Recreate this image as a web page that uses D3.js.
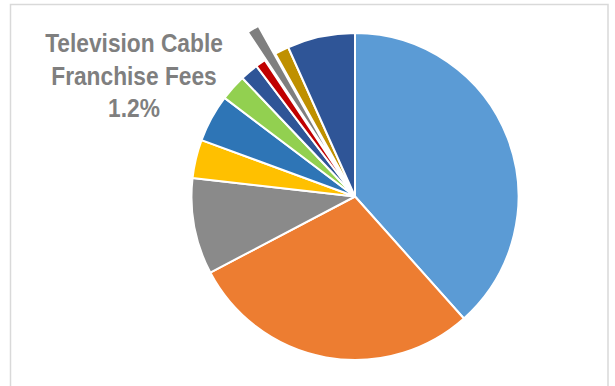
<!DOCTYPE html>
<html>
<head>
<meta charset="utf-8">
<script src="https://cdn.jsdelivr.net/npm/d3@7"></script>
<style>
  html, body { margin: 0; padding: 0; background: #ffffff; }
  svg { display: block; }
</style>
</head>
<body>
<svg id="chart" width="615" height="386"></svg>
<script>
// Revenue shares (percent), clockwise from 12 o'clock
const categories = [
  "Revenue A", "Revenue B", "Revenue C", "Revenue D", "Revenue E",
  "Revenue F", "Revenue G", "Revenue H",
  "Television Cable Franchise Fees",
  "Revenue J", "Revenue K"
];
const shares = [38.4, 28.9, 9.5, 3.8, 4.7, 2.6, 1.8, 1.0, 1.2, 1.4, 6.7];
const colors = [
  "#5B9BD5", "#ED7D31", "#8A8A8A", "#FFC000", "#2E75B6",
  "#92D050", "#2F5597", "#C00000", "#7F7F7F", "#BF9000", "#2F5597"
];
// the one slice that is pulled out and labelled
const highlighted = "Television Cable Franchise Fees";
const labelLines = ["Television Cable", "Franchise Fees"];

const svg = d3.select("#chart");
const W = 615, H = 386;

// chart area frame
svg.append("rect")
  .attr("x", 10.5).attr("y", 4.5)
  .attr("width", 597.5).attr("height", H + 10)
  .attr("fill", "#ffffff")
  .attr("stroke", "#D9D9D9")
  .attr("stroke-width", 1.5);

const cx = 355, cy = 196.5, radius = 163.5;
const explode = radius * 0.2;

const data = categories.map((c, i) => ({ name: c, value: shares[i], color: colors[i] }));

const pie = d3.pie().sort(null).value(d => d.value);
const arc = d3.arc().innerRadius(0).outerRadius(radius);

const g = svg.append("g").attr("transform", `translate(${cx},${cy})`);

g.selectAll("path.slice")
  .data(pie(data))
  .join("path")
  .attr("class", "slice")
  .attr("d", arc)
  .attr("fill", d => d.data.color)
  .attr("stroke", "#ffffff")
  .attr("stroke-width", 2)
  .attr("stroke-linejoin", "round")
  .attr("transform", d => {
    if (d.data.name !== highlighted) return null;
    const mid = (d.startAngle + d.endAngle) / 2;
    return `translate(${Math.sin(mid) * explode},${-Math.cos(mid) * explode})`;
  });

// data label for the highlighted slice
const hi = data.find(d => d.name === highlighted);
const lines = labelLines.concat([d3.format(".1f")(hi.value) + "%"]);

const label = svg.append("g")
  .attr("transform", "translate(134,0) scale(0.875,1)");

label.selectAll("text")
  .data(lines)
  .join("text")
  .attr("x", 0)
  .attr("y", (d, i) => 52.5 + i * 32.5)
  .attr("text-anchor", "middle")
  .attr("font-family", "'Liberation Sans', Arial, sans-serif")
  .attr("font-weight", "bold")
  .attr("font-size", 26)
  .attr("fill", "#7F7F7F")
  .text(d => d);
</script>
</body>
</html>
